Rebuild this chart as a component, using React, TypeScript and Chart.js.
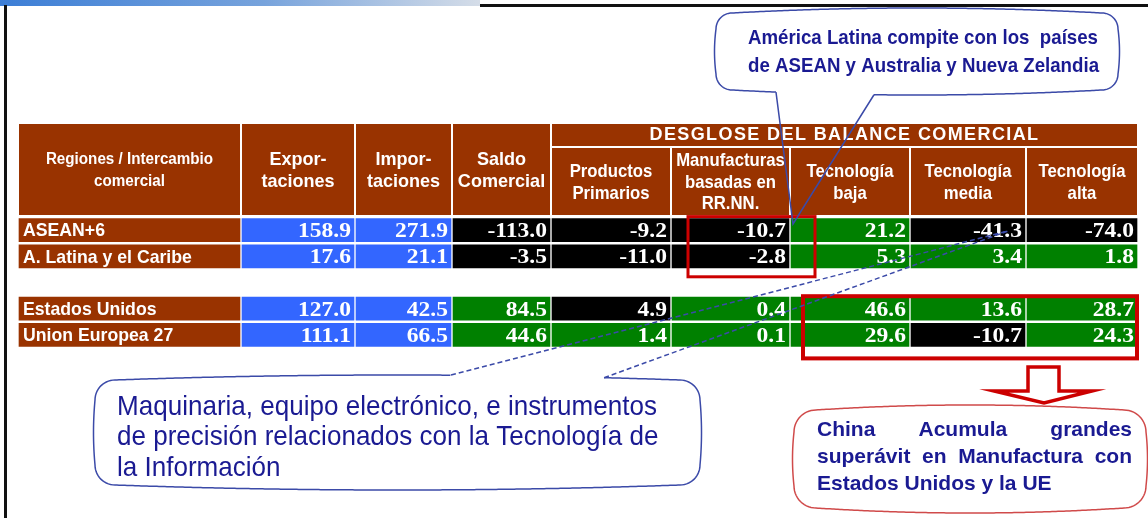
import React, { useEffect, useRef } from "react";
import { Chart, registerables } from "chart.js";

Chart.register(...registerables);

// ---------------- data ----------------
const regions = ["ASEAN+6", "A. Latina y el Caribe", "", "Estados Unidos", "Union Europea 27"];
const exportaciones = [158.9, 17.6, null, 127.0, 111.1];
const importaciones = [271.9, 21.1, null, 42.5, 66.5];
const saldoComercial = [-113.0, -3.5, null, 84.5, 44.6];
const productosPrimarios = [-9.2, -11.0, null, 4.9, 1.4];
const manufacturasRRNN = [-10.7, -2.8, null, 0.4, 0.1];
const tecnologiaBaja = [21.2, 5.3, null, 46.6, 29.6];
const tecnologiaMedia = [-41.3, 3.4, null, 13.6, -10.7];
const tecnologiaAlta = [-74.0, 1.8, null, 28.7, 24.3];
// cell shading per row and value column: B = blue, K = black, G = green
const cellTones = ["BBKKKGKK", "BBKKKGGG", "", "BBGKGGGG", "BBGGGGKG"];

const columnHeaders = [
  ["Regiones / Intercambio", "comercial"],
  ["Expor-", "taciones"],
  ["Impor-", "taciones"],
  ["Saldo", "Comercial"],
  ["Productos", "Primarios"],
  ["Manufacturas", "basadas en", "RR.NN."],
  ["Tecnología", "baja"],
  ["Tecnología", "media"],
  ["Tecnología", "alta"],
];
const groupHeader = "DESGLOSE DEL BALANCE COMERCIAL";
const calloutLatam = ["América Latina compite con los  países", "de ASEAN y Australia y Nueva Zelandia"];
const calloutTech = [
  "Maquinaria, equipo electrónico, e instrumentos",
  "de precisión relacionados con la Tecnología de",
  "la Información",
];
const calloutChina = ["China Acumula grandes", "superávit en Manufactura con", "Estados Unidos y la UE"];

const valueColumns = [
  exportaciones,
  importaciones,
  saldoComercial,
  productosPrimarios,
  manufacturasRRNN,
  tecnologiaBaja,
  tecnologiaMedia,
  tecnologiaAlta,
];

// ---------------- layout / style ----------------
const COL_WIDTHS = [223, 114, 97, 99, 120, 119, 120, 116, 112];
const COL_EDGES = COL_WIDTHS.reduce((acc: number[], w) => {
  acc.push(acc[acc.length - 1] + w);
  return acc;
}, [0]);
const BROWN = "#993300";
const TONES: Record<string, string> = { B: "#3366ff", K: "#000000", G: "#008000" };
const NAVY = "#1a1a92";
const BAR_T = 23;

type Pt = { x: number; y: number; edge: string };

function outline(L: number, T: number, R: number, B: number, r: number, bh: number, bv: number): Pt[] {
  const pts: Pt[] = [];
  const edge = (
    x0: number, y0: number, x1: number, y1: number, nx: number, ny: number, name: string, bulge: number
  ) => {
    const len = Math.hypot(x1 - x0, y1 - y0);
    const n = Math.max(2, Math.ceil(len / 2));
    for (let k = 0; k <= n; k++) {
      const t = k / n;
      const o = bulge * 4 * t * (1 - t);
      pts.push({ x: x0 + (x1 - x0) * t + nx * o, y: y0 + (y1 - y0) * t + ny * o, edge: name });
    }
  };
  const arc = (cx: number, cy: number, a0: number, a1: number) => {
    const n = 14;
    for (let k = 1; k < n; k++) {
      const a = a0 + ((a1 - a0) * k) / n;
      pts.push({ x: cx + r * Math.cos(a), y: cy + r * Math.sin(a), edge: "corner" });
    }
  };
  edge(L + r, T, R - r, T, 0, -1, "top", bh);
  arc(R - r, T + r, -Math.PI / 2, 0);
  edge(R, T + r, R, B - r, 1, 0, "right", bv);
  arc(R - r, B - r, 0, Math.PI / 2);
  edge(R - r, B, L + r, B, 0, 1, "bottom", bh);
  arc(L + r, B - r, Math.PI / 2, Math.PI);
  edge(L, B - r, L, T + r, -1, 0, "left", bv);
  arc(L + r, T + r, Math.PI, 1.5 * Math.PI);
  return pts;
}

function drawBubble(
  ctx: CanvasRenderingContext2D,
  box: { L: number; T: number; R: number; B: number; r: number; bh: number; bv: number },
  stroke: string,
  lw: number,
  tail?: { side: string; a: number; b: number; tx: number; ty: number; dash?: number[] }
) {
  const pts = outline(box.L, box.T, box.R, box.B, box.r, box.bh, box.bv);
  ctx.save();
  ctx.beginPath();
  pts.forEach((p, i) => (i ? ctx.lineTo(p.x, p.y) : ctx.moveTo(p.x, p.y)));
  ctx.closePath();
  ctx.fillStyle = "#ffffff";
  ctx.fill();
  ctx.strokeStyle = stroke;
  ctx.lineWidth = lw;
  if (!tail) {
    ctx.stroke();
    ctx.restore();
    return;
  }
  const n = pts.length;
  const gap = (p: Pt) => p.edge === tail.side && p.x > tail.a && p.x < tail.b;
  let s = 0;
  for (let i = 0; i < n; i++) {
    if (!gap(pts[i]) && gap(pts[(i - 1 + n) % n])) {
      s = i;
      break;
    }
  }
  ctx.beginPath();
  ctx.moveTo(pts[s].x, pts[s].y);
  let last = pts[s];
  for (let k = 1; k < n; k++) {
    const p = pts[(s + k) % n];
    if (gap(p)) break;
    ctx.lineTo(p.x, p.y);
    last = p;
  }
  ctx.stroke();
  ctx.beginPath();
  if (tail.dash) ctx.setLineDash(tail.dash);
  ctx.moveTo(pts[s].x, pts[s].y);
  ctx.lineTo(tail.tx, tail.ty);
  ctx.lineTo(last.x, last.y);
  ctx.stroke();
  ctx.restore();
}

function drawScaled(ctx: CanvasRenderingContext2D, text: string, x: number, y: number, sx: number) {
  ctx.save();
  ctx.translate(x, y);
  ctx.scale(sx, 1);
  ctx.fillText(text, 0, 0);
  ctx.restore();
}

function drawJustified(ctx: CanvasRenderingContext2D, text: string, x: number, y: number, width: number) {
  const words = text.split(" ");
  const ws = words.map((w) => ctx.measureText(w).width);
  const total = ws.reduce((a, b) => a + b, 0);
  const g = (width - total) / Math.max(1, words.length - 1);
  let cx = x;
  words.forEach((w, i) => {
    ctx.fillText(w, cx, y);
    cx += ws[i] + g;
  });
}

const tablePlugin = {
  id: "tableDecor",
  beforeDraw(chart: any) {
    const ctx: CanvasRenderingContext2D = chart.ctx;
    ctx.save();
    ctx.fillStyle = "#ffffff";
    ctx.fillRect(0, 0, chart.width, chart.height);
    const g = ctx.createLinearGradient(0, 0, 480, 0);
    g.addColorStop(0, "#3c7ed6");
    g.addColorStop(0.55, "#77a3dc");
    g.addColorStop(1, "#d5dde8");
    ctx.fillStyle = g;
    ctx.fillRect(0, 0, 480, 6);
    ctx.fillStyle = "#111111";
    ctx.fillRect(480, 4, chart.width - 480, 3);
    ctx.fillRect(4, 5, 3, chart.height - 5);
    ctx.restore();
  },
  afterDatasetsDraw(chart: any) {
    const ctx: CanvasRenderingContext2D = chart.ctx;
    const xs = chart.scales.x;
    const area = chart.chartArea;
    const colL = (c: number) => xs.getPixelForValue(COL_EDGES[c]) + 1;
    const colR = (c: number) => xs.getPixelForValue(COL_EDGES[c + 1]) - 1;
    const hb = area.top - 2;
    const ht = hb - 91;
    ctx.save();
    ctx.fillStyle = BROWN;
    for (let c = 0; c < 4; c++) ctx.fillRect(colL(c), ht, colR(c) - colL(c), hb - ht);
    ctx.fillRect(colL(4), ht, colR(8) - colL(4), 22);
    for (let c = 4; c < 9; c++) ctx.fillRect(colL(c), ht + 24, colR(c) - colL(c), hb - ht - 24);

    ctx.fillStyle = "#ffffff";
    ctx.textAlign = "center";
    ctx.textBaseline = "middle";
    columnHeaders.forEach((lines, c) => {
      const cx = (colL(c) + colR(c)) / 2;
      const top = c < 4 ? ht : ht + 24;
      const mid = (top + hb) / 2;
      const step = lines.length > 2 ? 21.5 : 22;
      let sx = 0.9;
      if (c === 0) {
        ctx.font = "bold 16px 'Liberation Sans'";
        sx = 0.95;
      } else if (c < 4) {
        ctx.font = "bold 19px 'Liberation Sans'";
        sx = 0.95;
      } else {
        ctx.font = "bold 19px 'Liberation Sans'";
        sx = 0.88;
      }
      lines.forEach((t, k) => {
        drawScaled(ctx, t, cx, mid + (k - (lines.length - 1) / 2) * step + 1, sx);
      });
    });
    ctx.font = "bold 18px 'Liberation Sans'";
    (ctx as any).letterSpacing = "1.4px";
    ctx.fillText(groupHeader, (colL(4) + colR(8)) / 2, ht + 11.5);
    (ctx as any).letterSpacing = "0px";

    // cell texts
    chart.data.datasets.forEach((ds: any, c: number) => {
      const meta = chart.getDatasetMeta(c);
      meta.data.forEach((el: any, i: number) => {
        if (ds.data[i] == null) return;
        const left = Math.min(el.x, el.base);
        const right = Math.max(el.x, el.base);
        ctx.fillStyle = "#ffffff";
        if (c === 0) {
          ctx.font = "bold 19px 'Liberation Sans'";
          ctx.textAlign = "left";
          drawScaled(ctx, regions[i], left + 4, el.y + 1, 0.93);
        } else {
          const v = valueColumns[c - 1][i] as number;
          ctx.font = "bold 22px 'Liberation Serif'";
          ctx.textAlign = "right";
          drawScaled(ctx, v.toFixed(1), right - 3, el.y + 1.5, 1.07);
        }
      });
    });
    ctx.restore();
  },
  afterDraw(chart: any) {
    const ctx: CanvasRenderingContext2D = chart.ctx;
    const xs = chart.scales.x;
    const ys = chart.scales.y;
    const colL = (c: number) => xs.getPixelForValue(COL_EDGES[c]) + 1;
    const colR = (c: number) => xs.getPixelForValue(COL_EDGES[c + 1]) - 1;
    const rowTop = (i: number) => ys.getPixelForValue(i) - BAR_T / 2;
    const rowBot = (i: number) => ys.getPixelForValue(i) + BAR_T / 2;
    ctx.save();

    // red highlight boxes
    ctx.strokeStyle = "#cc0000";
    ctx.lineWidth = 3;
    ctx.strokeRect(colL(5) + 16, rowTop(0) - 2, colL(6) + 24 - (colL(5) + 16), rowBot(1) + 9 - (rowTop(0) - 2));
    ctx.lineWidth = 4;
    ctx.strokeRect(colL(6) + 12, rowTop(3) - 1, colR(8) - (colL(6) + 12), rowBot(4) + 12 - (rowTop(3) - 1));

    // down arrow
    ctx.beginPath();
    ctx.moveTo(1028, 367);
    ctx.lineTo(1059, 367);
    ctx.lineTo(1059, 391);
    ctx.lineTo(1092, 391);
    ctx.lineTo(1044, 403);
    ctx.lineTo(994, 391);
    ctx.lineTo(1028, 391);
    ctx.closePath();
    ctx.fillStyle = "#ffffff";
    ctx.fill();
    ctx.lineWidth = 3.5;
    ctx.lineJoin = "miter";
    ctx.stroke();

    // callout: America Latina
    drawBubble(ctx, { L: 716, T: 13, R: 1118, B: 90, r: 16, bh: 5, bv: 1.5 }, "#3b4aa8", 1.5, {
      side: "bottom",
      a: 777,
      b: 873,
      tx: 793,
      ty: 224,
    });
    ctx.fillStyle = NAVY;
    ctx.textBaseline = "middle";
    ctx.textAlign = "left";
    ctx.font = "bold 21px 'Liberation Sans'";
    let sx = 350 / ctx.measureText(calloutLatam[0]).width;
    calloutLatam.forEach((t, k) => drawScaled(ctx, t, 748, 38 + k * 28, sx));

    // callout: Maquinaria...
    drawBubble(ctx, { L: 95, T: 380, R: 700, B: 485, r: 20, bh: 5, bv: 1.5 }, "#3b4aa8", 1.5, {
      side: "top",
      a: 452,
      b: 604,
      tx: 1008,
      ty: 231,
      dash: [5, 3],
    });
    ctx.fillStyle = NAVY;
    ctx.font = "28px 'Liberation Sans'";
    sx = 540 / ctx.measureText(calloutTech[0]).width;
    calloutTech.forEach((t, k) => drawScaled(ctx, t, 117, 407 + k * 30.5, sx));

    // callout: China
    drawBubble(ctx, { L: 794, T: 410, R: 1146, B: 508, r: 22, bh: 5, bv: 1.5 }, "#d04a4a", 1.5);
    ctx.fillStyle = NAVY;
    ctx.font = "bold 21px 'Liberation Sans'";
    drawJustified(ctx, calloutChina[0], 817, 430, 315);
    drawJustified(ctx, calloutChina[1], 817, 457, 315);
    ctx.fillText(calloutChina[2], 817, 484);
    ctx.restore();
  },
};

export default function App() {
  const ref = useRef<HTMLCanvasElement>(null);
  useEffect(() => {
    document.body.style.margin = "0";
    const datasets = COL_WIDTHS.map((_, c) => ({
      label: c === 0 ? "Regiones" : columnHeaders[c].join(" "),
      data: regions.map((r) => (r === "" ? null : [COL_EDGES[c] + 1, COL_EDGES[c + 1] - 1])),
      backgroundColor: regions.map((r, i) =>
        r === "" ? "rgba(0,0,0,0)" : c === 0 ? BROWN : TONES[cellTones[i][c - 1]]
      ),
      borderWidth: 0,
      grouped: false,
      barThickness: BAR_T,
    }));
    const chart = new Chart(ref.current as HTMLCanvasElement, {
      type: "bar",
      data: { labels: regions, datasets: datasets as any },
      options: {
        indexAxis: "y",
        animation: false,
        responsive: false,
        devicePixelRatio: 1,
        events: [],
        layout: { padding: { left: 18, right: 10, top: 217, bottom: 170 } },
        scales: {
          x: { type: "linear", min: 0, max: COL_EDGES[COL_EDGES.length - 1], display: false },
          y: { type: "category", display: false, offset: true },
        },
        plugins: { legend: { display: false }, tooltip: { enabled: false } },
      },
      plugins: [tablePlugin],
    } as any);
    return () => chart.destroy();
  }, []);
  return (
    <div style={{ position: "absolute", left: 0, top: 0, width: 1148, height: 518 }}>
      <canvas ref={ref} width={1148} height={518} style={{ display: "block" }} />
    </div>
  );
}
